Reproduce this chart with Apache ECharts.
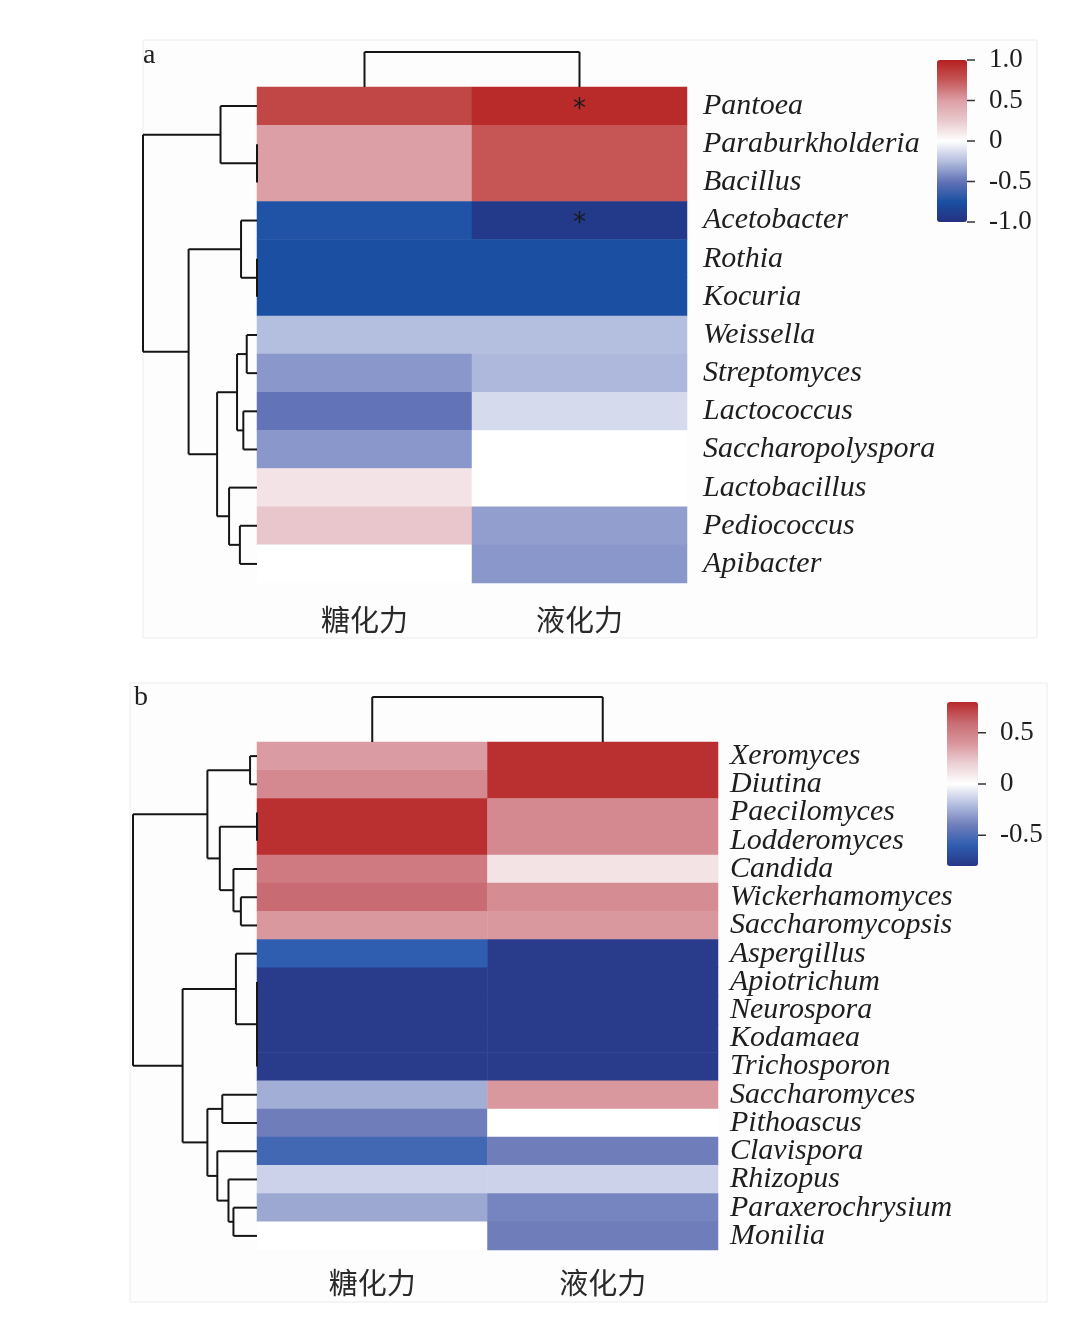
<!DOCTYPE html>
<html>
<head>
<meta charset="utf-8">
<script src="https://cdn.jsdelivr.net/npm/echarts@6/dist/echarts.min.js"></script>
<style>
html,body{margin:0;padding:0;background:#fff;}
#chart{width:1090px;height:1325px;}
</style>
</head>
<body>
<div id="chart"></div>
<script>
// ---------- Panel a data ----------
const colsA = ['糖化力', '液化力'];
const rowsA = ['Pantoea','Paraburkholderia','Bacillus','Acetobacter','Rothia','Kocuria','Weissella','Streptomyces','Lactococcus','Saccharopolyspora','Lactobacillus','Pediococcus','Apibacter'];
const saccA = [0.82, 0.50, 0.50, -0.73, -0.76, -0.76, -0.25, -0.38, -0.50, -0.38, 0.13, 0.27, 0.00];
const liqA  = [0.95, 0.75, 0.75, -0.93, -0.76, -0.76, -0.25, -0.27, -0.14, 0.00, 0.00, -0.355, -0.38];
const sigLiqA = ['Pantoea', 'Acetobacter'];
// row dendrogram: [left, right, height]; leaves are row indices
const rowTreeA = [[0, [1, 2, 0.0], 0.32], [[3, [4, 5, 0.0], 0.14], [[[6, 7, 0.09], [8, 9, 0.12], 0.175], [10, [11, 12, 0.15], 0.245], 0.35], 0.60], 1.0];
const colTreeA = [0, 1, 1.0];
const ticksA = [-1, -0.5, 0, 0.5, 1];
const rangeA = [-1, 1];

// ---------- Panel b data ----------
const colsB = ['糖化力', '液化力'];
const rowsB = ['Xeromyces','Diutina','Paecilomyces','Lodderomyces','Candida','Wickerhamomyces','Saccharomycopsis','Aspergillus','Apiotrichum','Neurospora','Kodamaea','Trichosporon','Saccharomyces','Pithoascus','Clavispora','Rhizopus','Paraxerochrysium','Monilia'];
const saccB = [0.375, 0.46, 0.78, 0.78, 0.53, 0.60, 0.39, -0.60, -0.78, -0.78, -0.78, -0.78, -0.25, -0.40, -0.54, -0.14, -0.27, 0.00];
const liqB  = [0.78, 0.78, 0.46, 0.46, 0.12, 0.44, 0.39, -0.78, -0.78, -0.78, -0.78, -0.78, 0.39, 0.00, -0.40, -0.14, -0.38, -0.40];
const rowTreeB = [[[0, 1, 0.056], [[2, 3, 0.0], [4, [5, 6, 0.13], 0.19], 0.30], 0.40],
                  [[7, [[8, 9, 0.0], [10, 11, 0.0], 0.0], 0.17],
                   [[12, 13, 0.28], [14, [15, [16, 17, 0.19], 0.23], 0.32], 0.40], 0.60], 1.0];
const colTreeB = [0, 1, 1.0];
const ticksB = [-0.5, 0, 0.5];
const rangeB = [-0.8, 0.8];

const colorsA = ['#26307f','#1a50a3','#6373b7','#b4bedf','#ffffff','#e9c9ce','#dc9fa5','#c65656','#b5201f'];
const colorsB = ['#283787','#2f5db0','#6f7ebb','#b4bedf','#ffffff','#ebd0d4','#d8959b','#c96b72','#b8292a'];

// ---------- helpers ----------
function dendroSegments(tree) {
  const segs = [];
  function walk(node) {
    if (typeof node === 'number') return { pos: node, h: 0 };
    const a = walk(node[0]);
    const b = walk(node[1]);
    const h = node[2];
    segs.push([a.h, a.pos, h, a.pos]);
    segs.push([b.h, b.pos, h, b.pos]);
    segs.push([h, a.pos, h, b.pos]);
    return { pos: (a.pos + b.pos) / 2, h: h };
  }
  walk(tree);
  return segs;
}
// for top (column) dendrogram: swap axes -> [pos, h]
function colSegments(tree) {
  return dendroSegments(tree).map(s => [s[1], s[0], s[3], s[2]]);
}
function heatData(sacc, liq) {
  const d = [];
  sacc.forEach((v, i) => d.push([0, i, v]));
  liq.forEach((v, i) => d.push([1, i, v]));
  return d;
}
function renderSeg(params, api) {
  const p1 = api.coord([api.value(0), api.value(1)]);
  const p2 = api.coord([api.value(2), api.value(3)]);
  return { type: 'line', shape: { x1: p1[0], y1: p1[1], x2: p2[0], y2: p2[1] },
           style: { stroke: '#151515', lineWidth: 2 } };
}
function renderTick(params, api) {
  const p1 = api.coord([api.value(0), api.value(1)]);
  const p2 = api.coord([api.value(2), api.value(3)]);
  return { type: 'line', shape: { x1: p1[0], y1: p1[1], x2: p1[0] + 8, y2: p2[1] },
           style: { stroke: '#333', lineWidth: 1.5 } };
}
function fmtTick(v) {
  if (v === 0) return '0';
  if (Math.abs(v) === 1) return v.toFixed(1);
  return String(v);
}

const serif = 'Liberation Serif, Times New Roman, serif';
const cjk = 'Noto Sans CJK SC, sans-serif';

const L = {
  a: { heat: { left: 257, top: 87, width: 430, height: 496 },
       rowD: { left: 143, top: 87, width: 114, height: 496 },
       colD: { left: 257, top: 52, width: 430, height: 35 },
       bar:  { left: 937, top: 60, width: 30, height: 162 },
       xMargin: 22, yMargin: 16 },
  b: { heat: { left: 257, top: 742, width: 461, height: 508 },
       rowD: { left: 133, top: 742, width: 124, height: 508 },
       colD: { left: 257, top: 697, width: 461, height: 45 },
       bar:  { left: 947, top: 702, width: 31, height: 164 },
       xMargin: 18, yMargin: 12 }
};

const grids = [], xAxes = [], yAxes = [], series = [], visualMaps = [];

function addPanel(key, cols, rows, sacc, liq, sigLiq, rowTree, colTree, ticks, range, colors) {
  const lay = L[key];
  const g0 = grids.length;
  grids.push(Object.assign({ containLabel: false }, lay.heat));
  grids.push(Object.assign({ containLabel: false }, lay.rowD));
  grids.push(Object.assign({ containLabel: false }, lay.colD));
  grids.push(Object.assign({ containLabel: false }, lay.bar));
  const n = rows.length;
  // heatmap axes
  xAxes.push({ gridIndex: g0, type: 'category', data: cols, position: 'bottom',
    axisLine: { show: false }, axisTick: { show: false }, splitLine: { show: false },
    axisLabel: { fontFamily: cjk, fontSize: 29, color: '#2a2a2a', margin: lay.xMargin, interval: 0 } });
  yAxes.push({ gridIndex: g0, type: 'category', data: rows, inverse: true, position: 'right',
    axisLine: { show: false }, axisTick: { show: false }, splitLine: { show: false },
    axisLabel: { fontFamily: serif, fontStyle: 'italic', fontSize: 30, color: '#1e1e1e',
      margin: lay.yMargin, interval: 0, hideOverlap: false } });
  // row dendrogram axes
  xAxes.push({ gridIndex: g0 + 1, type: 'value', min: 0, max: 1, inverse: true, show: false });
  yAxes.push({ gridIndex: g0 + 1, type: 'value', min: -0.5, max: n - 0.5, inverse: true, show: false });
  // col dendrogram axes
  xAxes.push({ gridIndex: g0 + 2, type: 'value', min: -0.5, max: cols.length - 0.5, show: false });
  yAxes.push({ gridIndex: g0 + 2, type: 'value', min: 0, max: 1, show: false });
  // colorbar axes
  xAxes.push({ gridIndex: g0 + 3, type: 'value', min: 0, max: 1, show: false });
  yAxes.push({ gridIndex: g0 + 3, type: 'value', min: range[0], max: range[1], position: 'right',
    axisLine: { show: false }, splitLine: { show: false }, axisTick: { show: false },
    axisLabel: { fontFamily: serif, fontSize: 27, color: '#1e1e1e', margin: 22,
      customValues: ticks, formatter: fmtTick } });

  const sIdx = series.length;
  series.push({
    type: 'heatmap', xAxisIndex: g0, yAxisIndex: g0,
    data: heatData(sacc, liq),
    itemStyle: { borderWidth: 0 },
    label: { show: true, color: '#1a1a1a', fontSize: 26, fontFamily: 'DejaVu Sans', offset: [0, 4],
      formatter: p => (p.data[0] === 1 && sigLiq.indexOf(rows[p.data[1]]) >= 0) ? '*' : '' },
    emphasis: { disabled: true }, silent: true
  });
  series.push({ type: 'custom', xAxisIndex: g0 + 1, yAxisIndex: g0 + 1, clip: false, silent: true,
    renderItem: renderSeg, encode: { x: [0, 2], y: [1, 3] }, data: dendroSegments(rowTree) });
  series.push({ type: 'custom', xAxisIndex: g0 + 2, yAxisIndex: g0 + 2, clip: false, silent: true,
    renderItem: renderSeg, encode: { x: [0, 2], y: [1, 3] }, data: colSegments(colTree) });
  series.push({ type: 'custom', xAxisIndex: g0 + 3, yAxisIndex: g0 + 3, clip: false, silent: true, z: 10,
    renderItem: renderTick, encode: { x: [0, 2], y: [1, 3] }, data: ticks.map(t => [1, t, 1, t]) });
  visualMaps.push({
    type: 'continuous', seriesIndex: sIdx, min: range[0], max: range[1],
    inRange: { color: colors }, calculable: false, hoverLink: false,
    left: lay.bar.left, top: lay.bar.top, itemWidth: lay.bar.width, itemHeight: lay.bar.height,
    padding: 0, text: null, showLabel: false, orient: 'vertical'
  });
}

addPanel('a', colsA, rowsA, saccA, liqA, sigLiqA, rowTreeA, colTreeA, ticksA, rangeA, colorsA);
addPanel('b', colsB, rowsB, saccB, liqB, [], rowTreeB, colTreeB, ticksB, rangeB, colorsB);

const chart = echarts.init(document.getElementById('chart'), null, { renderer: 'canvas' });
chart.setOption({
  backgroundColor: '#ffffff',
  animation: false,
  grid: grids, xAxis: xAxes, yAxis: yAxes, series: series, visualMap: visualMaps,
  graphic: [
    { type: 'rect', silent: true, z: -10, shape: { x: 143, y: 40, width: 894, height: 598 },
      style: { fill: '#fdfdfd', stroke: '#ececec', lineWidth: 1 } },
    { type: 'rect', silent: true, z: -10, shape: { x: 130, y: 683, width: 917, height: 619 },
      style: { fill: '#fdfdfd', stroke: '#ececec', lineWidth: 1 } },
    { type: 'text', left: 143, top: 42, style: { text: 'a', font: '28px Liberation Serif', fill: '#222' } },
    { type: 'text', left: 134, top: 684, style: { text: 'b', font: '28px Liberation Serif', fill: '#222' } }
  ]
});
</script>
</body>
</html>
